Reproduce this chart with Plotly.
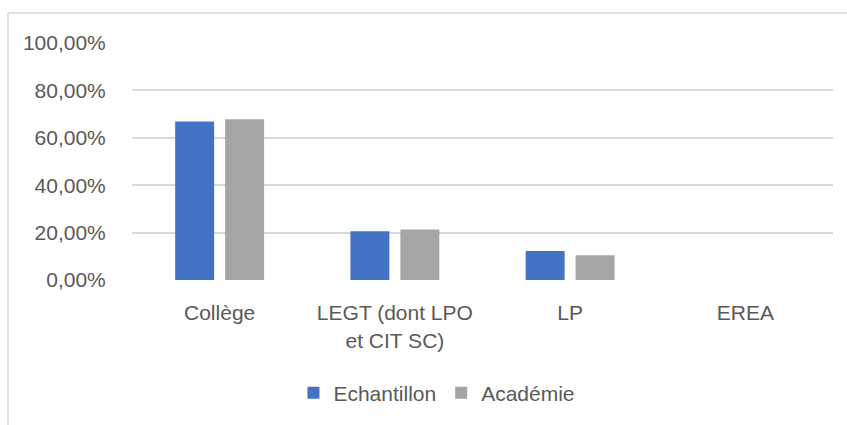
import plotly.graph_objects as go

categories = ["Collège", "LEGT (dont LPO<br>et CIT SC)", "LP", "EREA"]
echantillon = [0.669, 0.206, 0.122, 0.0]
academie = [0.678, 0.213, 0.104, 0.0]
series_names = ["Echantillon", "Académie"]
tick_vals = [0, 0.2, 0.4, 0.6, 0.8, 1.0]

W, H = 847, 425
L, R, T, B = 132, 14, 43, 145
pw, ph = W - L - R, H - T - B

font = dict(family="Liberation Sans, Arial, sans-serif", size=21, color="#595959")

fig = go.Figure()
fig.add_trace(go.Bar(x=categories, y=echantillon, name=series_names[0],
                     marker=dict(color="#4472C4", line=dict(width=0))))
fig.add_trace(go.Bar(x=categories, y=academie, name=series_names[1],
                     marker=dict(color="#A5A5A5", line=dict(width=0))))

# chart border (decoration)
bx0 = (8 - L) / pw
by1 = (H - 13 - B) / ph
fig.add_shape(type="line", xref="paper", yref="paper", x0=bx0, x1=(W + 5 - L) / pw,
              y0=by1, y1=by1, line=dict(color="#D9D9D9", width=1.5), layer="below")
fig.add_shape(type="line", xref="paper", yref="paper", x0=bx0, x1=bx0,
              y0=by1, y1=-(B + 5) / ph, line=dict(color="#D9D9D9", width=1.5), layer="below")

fig.update_layout(
    width=W, height=H,
    margin=dict(l=L, r=R, t=T, b=B, autoexpand=False),
    paper_bgcolor="white", plot_bgcolor="white",
    barmode="group", bargap=0.43, bargroupgap=0.22,
    separators=", ",
    font=font,
    showlegend=True,
    legend=dict(orientation="h", x=0.435, xanchor="center", y=-(393 - 280) / ph, yanchor="middle",
                font=font, itemwidth=30, traceorder="normal"),
    xaxis=dict(showgrid=False, showline=False, zeroline=False, ticks="outside",
               ticklen=14, tickcolor="rgba(0,0,0,0)", tickfont=font),
    yaxis=dict(range=[0, 1.0], tickvals=tick_vals, tickformat=".2%", showgrid=True,
               gridcolor="#D9D9D9", gridwidth=1.5, zeroline=False, showline=False,
               ticks="outside", ticklen=21, tickcolor="rgba(0,0,0,0)", tickfont=font),
)

fig.write_html("out.html", config={"displayModeBar": False},
               post_script="document.body.style.margin='0';document.body.style.overflow='hidden';")
